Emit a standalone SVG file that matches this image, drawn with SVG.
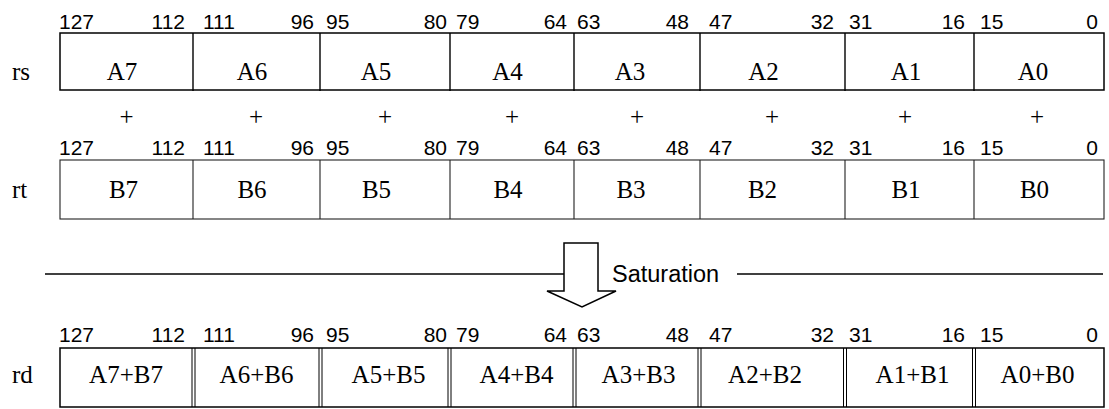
<svg xmlns="http://www.w3.org/2000/svg" width="1109" height="409" viewBox="0 0 1109 409">
<style>
.num{font-family:"Liberation Sans",Arial,sans-serif;font-size:21px;fill:#000}
.s{text-anchor:start}.e{text-anchor:end}
.lbl{font-family:"Liberation Serif","Times New Roman",serif;font-size:25px;fill:#000;text-anchor:middle}
.reg{font-family:"Liberation Serif","Times New Roman",serif;font-size:25px;fill:#000}
.box{fill:#fff;stroke:#000;stroke-width:1.5}
.boxt{fill:#fff;stroke:#222;stroke-width:1.1}
.div{stroke:#000;stroke-width:1.4}
.divt{stroke:#222;stroke-width:1.1}
.dbl{stroke:#000;stroke-width:1}
.sat{font-family:"Liberation Sans",Arial,sans-serif;font-size:23.5px;fill:#000}
</style>
<defs>
<g id="nums">
<text class="num s" x="59" y="0">127</text><text class="num e" x="185" y="0">112</text>
<text class="num s" x="203" y="0">111</text><text class="num e" x="314" y="0">96</text>
<text class="num s" x="326" y="0">95</text><text class="num e" x="447" y="0">80</text>
<text class="num s" x="456" y="0">79</text><text class="num e" x="567" y="0">64</text>
<text class="num s" x="577" y="0">63</text><text class="num e" x="689" y="0">48</text>
<text class="num s" x="709" y="0">47</text><text class="num e" x="834" y="0">32</text>
<text class="num s" x="849" y="0">31</text><text class="num e" x="965" y="0">16</text>
<text class="num s" x="980" y="0">15</text><text class="num e" x="1098" y="0">0</text>
</g>
</defs>

<g id="rs">
<use href="#nums" y="29"/>
<text class="reg" x="12" y="80">rs</text>
<rect class="box" x="60" y="33" width="1044" height="57"/>
<path class="div" d="M193 33V91M320 33V91M450 33V91M574 33V91M700 33V91M845 33V91M974 33V91"/>
<text class="lbl" x="122" y="80">A7</text>
<text class="lbl" x="252" y="80">A6</text>
<text class="lbl" x="376" y="80">A5</text>
<text class="lbl" x="507.5" y="80">A4</text>
<text class="lbl" x="630" y="80">A3</text>
<text class="lbl" x="763.5" y="80">A2</text>
<text class="lbl" x="906" y="80">A1</text>
<text class="lbl" x="1033" y="80">A0</text>
</g>

<g id="plus">
<text class="lbl" x="126.5" y="125">+</text>
<text class="lbl" x="256" y="125">+</text>
<text class="lbl" x="385" y="125">+</text>
<text class="lbl" x="512" y="125">+</text>
<text class="lbl" x="637" y="125">+</text>
<text class="lbl" x="772" y="125">+</text>
<text class="lbl" x="905" y="125">+</text>
<text class="lbl" x="1037" y="125">+</text>
</g>

<g id="rt">
<use href="#nums" y="155"/>
<text class="reg" x="12" y="198">rt</text>
<rect class="boxt" x="60" y="160" width="1044" height="59"/>
<path class="divt" d="M193 160V219M320 160V219M450 160V219M574 160V219M700 160V219M845 160V219M974 160V219"/>
<text class="lbl" x="123.5" y="198">B7</text>
<text class="lbl" x="252" y="198">B6</text>
<text class="lbl" x="376.5" y="198">B5</text>
<text class="lbl" x="508" y="198">B4</text>
<text class="lbl" x="631" y="198">B3</text>
<text class="lbl" x="762.5" y="198">B2</text>
<text class="lbl" x="906" y="198">B1</text>
<text class="lbl" x="1034.5" y="198">B0</text>
</g>

<g id="connectors">
<line x1="45" y1="274" x2="564" y2="274" stroke="#000" stroke-width="1.5"/>
<line x1="737" y1="274" x2="1103" y2="274" stroke="#000" stroke-width="1.5"/>
<polygon points="564,243 598,243 598,291 616,291 582,307 547,291 564,291" fill="#fff" stroke="#000" stroke-width="1.5"/>
</g>
<text class="sat" x="612" y="282">Saturation</text>

<g id="rd">
<use href="#nums" y="342"/>
<text class="reg" x="12" y="383">rd</text>
<rect class="box" x="60" y="348" width="1044" height="59"/>
<path class="dbl" d="M192 348V407M195 348V407M319 348V407M322 348V407M448 348V407M451 348V407M573 348V407M576 348V407M698 348V407M701 348V407M843.5 348V407M846.5 348V407M972.5 348V407M975.5 348V407"/>
<text class="lbl" x="126" y="383">A7+B7</text>
<text class="lbl" x="256.5" y="383">A6+B6</text>
<text class="lbl" x="388.5" y="383">A5+B5</text>
<text class="lbl" x="516.5" y="383">A4+B4</text>
<text class="lbl" x="638.5" y="383">A3+B3</text>
<text class="lbl" x="765" y="383">A2+B2</text>
<text class="lbl" x="912.5" y="383">A1+B1</text>
<text class="lbl" x="1037.5" y="383">A0+B0</text>
</g>
</svg>
